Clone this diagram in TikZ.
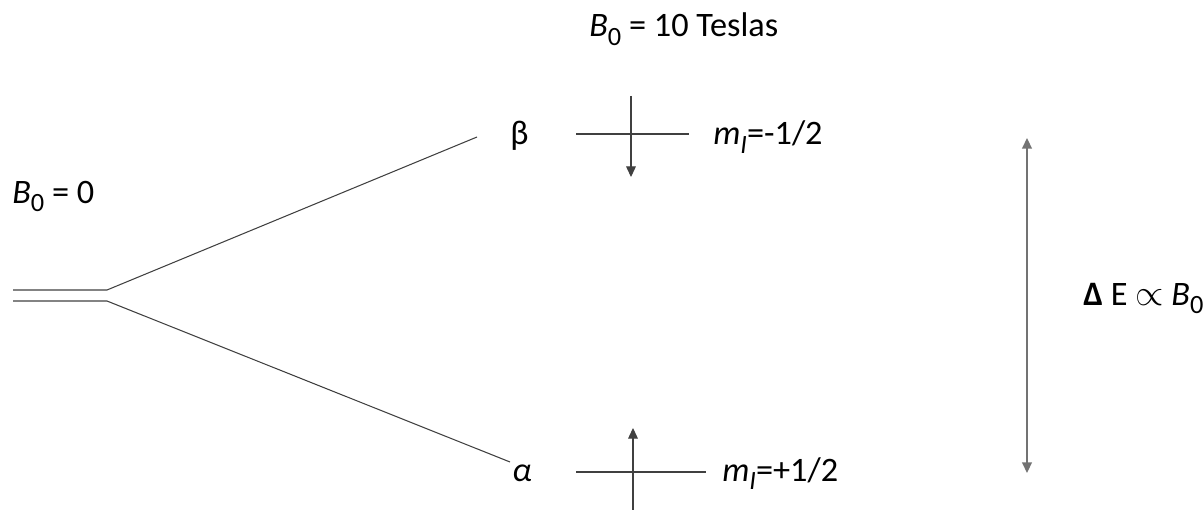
\documentclass[tikz,border=0pt]{standalone}
\usepackage{fontspec}
\setmainfont{Carlito}
\usetikzlibrary{arrows.meta,positioning}
\newcommand{\lowsub}[1]{\raisebox{-0.24em}{\fontsize{15}{18}\selectfont #1}}
\newcommand{\Bnull}{\textit{B}\lowsub{0}}
\newcommand{\mspin}{\textit{m}\lowsub{\textit{I}}}
\tikzset{
  lvl/.style={draw=black!75,line width=0.6pt},
  spin/.style={draw=black!75,line width=0.6pt,-{Triangle[length=6pt,width=5.5pt]}},
  gap/.style={draw=black!55,line width=0.9pt,
    {Triangle[length=6pt,width=5.5pt]}-{Triangle[length=6pt,width=5.5pt]}},
  lab/.style={inner sep=0pt,anchor=base west},
}

\begin{document}
\begin{tikzpicture}[x=0.02cm,y=-0.02cm,font=\fontsize{19.5}{23}\selectfont]
  \useasboundingbox (0,0) rectangle (1204,510);
  % degenerate level without field, then the split
  \coordinate (s1) at (13,290); \coordinate (k1) at (107,290);
  \coordinate (s2) at (13,301); \coordinate (k2) at (107,301);
  \coordinate (bend) at (477,137); \coordinate (aend) at (510,462);
  \draw[lvl] (s1) -- (k1) -- (bend);
  \draw[lvl] (s2) -- (k2) -- (aend);
  \node[lab] (bzero) at (12,203) {\Bnull{} = 0};
  \node[lab] (bten) at (589,37) {\Bnull{} = 10 Teslas};
  % beta state
  \node[lab] (beta) at (510,145) {β};
  \coordinate (bl) at (576,134); \coordinate (br) at (689,134);
  \coordinate (bt) at (631,96); \coordinate (bb) at (631,177);
  \draw[lvl] (bl) -- (br);
  \draw[spin] (bt) -- (bb);
  \node[lab] (mbeta) at (713,145) {\mspin=-1/2};
  % alpha state
  \node[lab] (alpha) at (512,481) {\textit{α}};
  \coordinate (al) at (576,472); \coordinate (ar) at (706,472);
  \coordinate (ab) at (633,510); \coordinate (at) at (633,428);
  \draw[lvl] (al) -- (ar);
  \draw[spin] (ab) -- (at);
  \node[lab] (malpha) at (722,481) {\mspin=+1/2};
  % energy gap
  \coordinate (gt) at (1027,138); \coordinate (gb) at (1027,473);
  \draw[gap] (gt) -- (gb);
  \node[lab] (dE) at (1083,305) {\textbf{Δ} E $\propto$ \Bnull};
\end{tikzpicture}
\end{document}
